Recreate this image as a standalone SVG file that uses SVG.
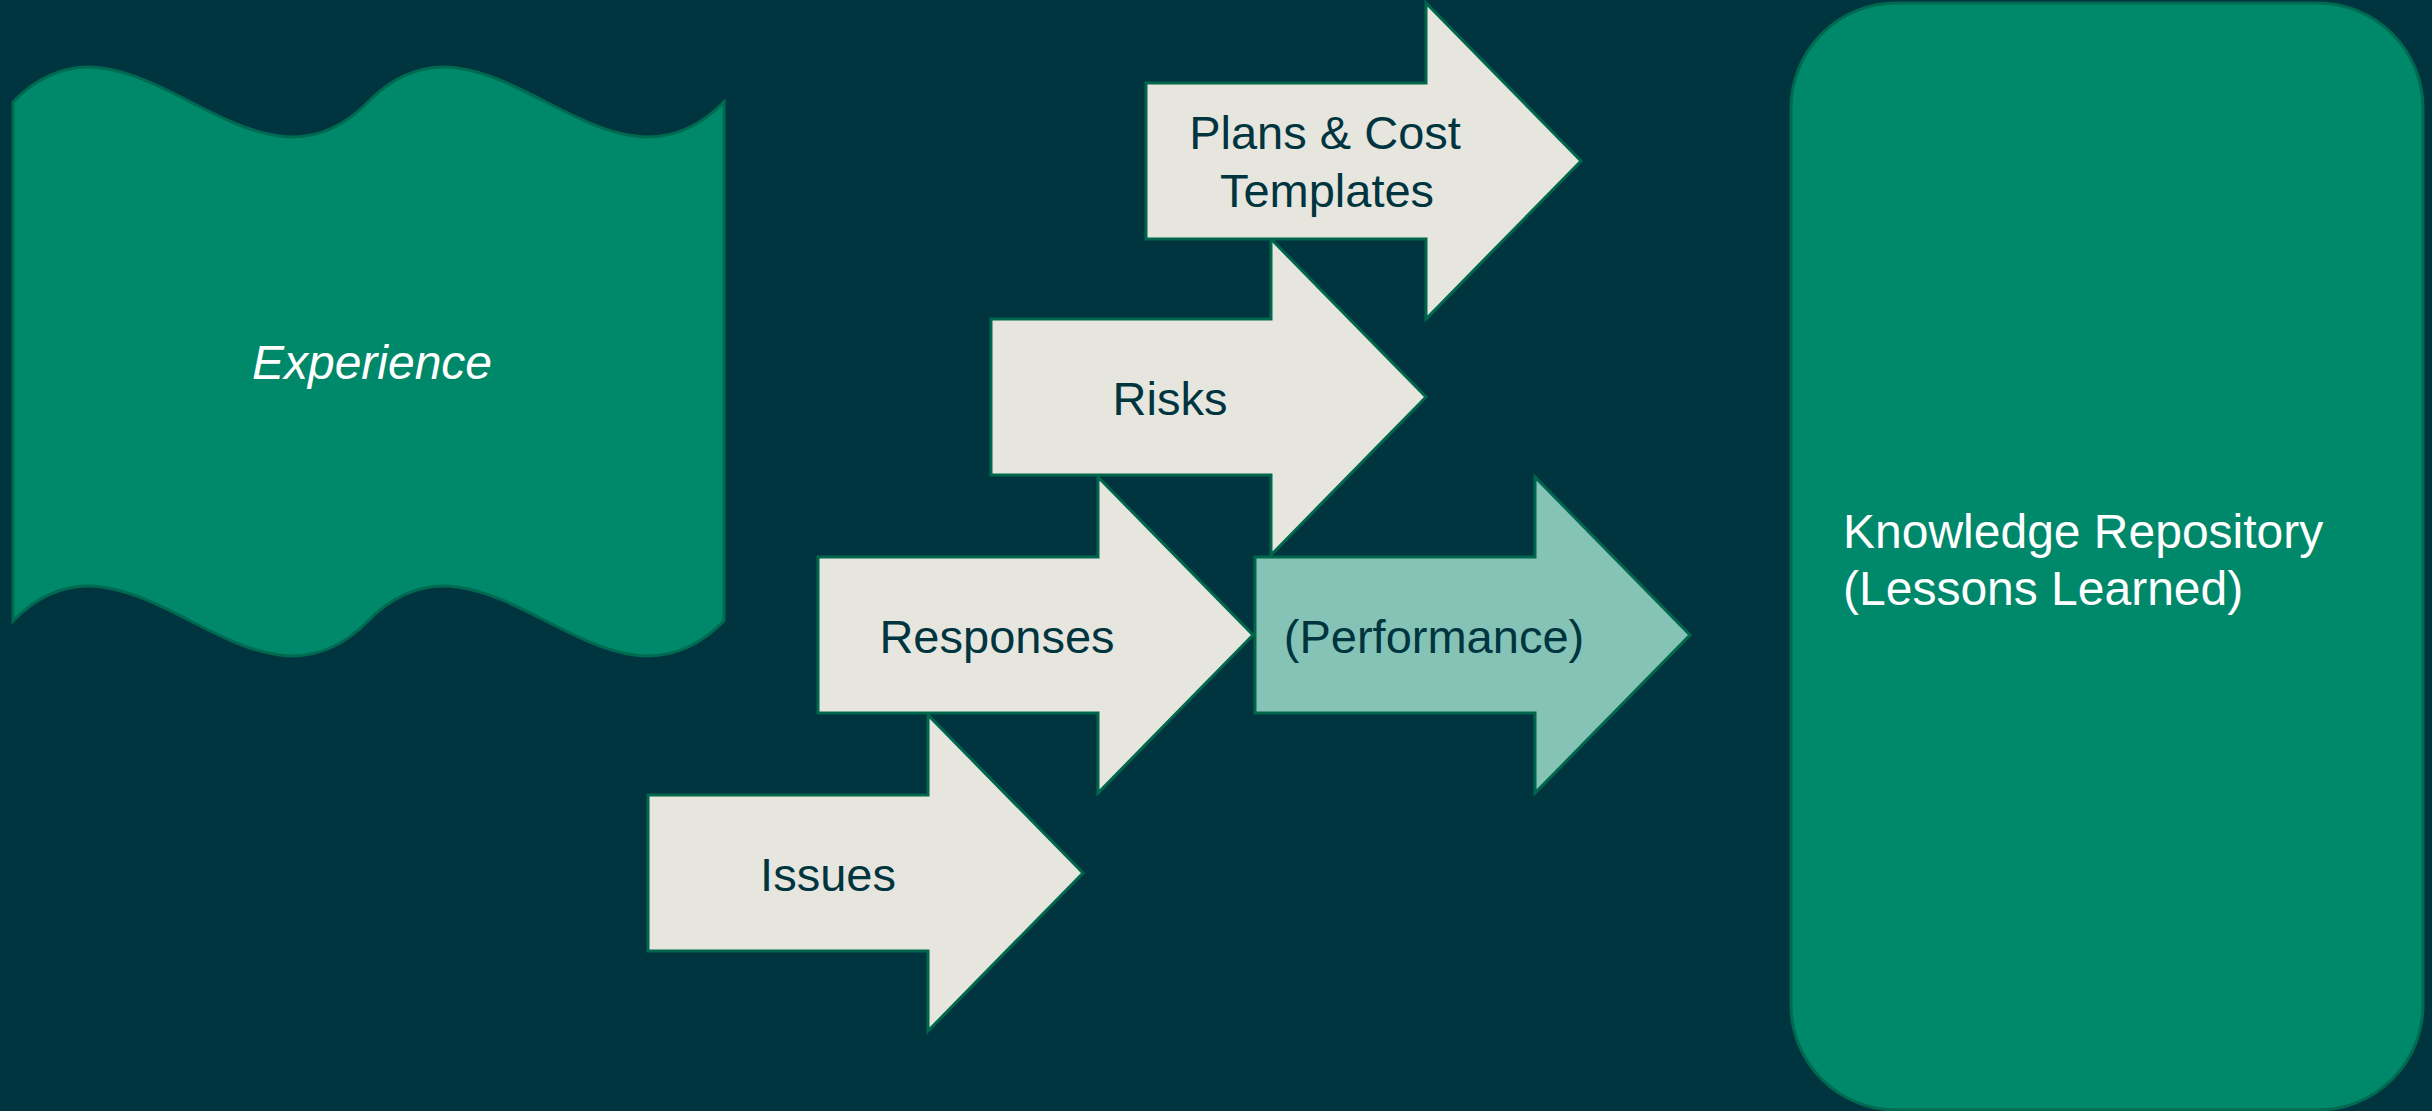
<svg xmlns="http://www.w3.org/2000/svg" width="2432" height="1111" viewBox="0 0 2432 1111">
<style>
.bg{fill:#00353F}
.wave{fill:#00886A;stroke:#006A50;stroke-width:3}
.repo{fill:#00886A;stroke:#006A50;stroke-width:3}
.arrow{fill:#E6E6DE;stroke:#00664C;stroke-width:3;stroke-linejoin:miter}
.arrow.perf{fill:#84C3B6}
.lbl{font-family:"Liberation Sans",Arial,sans-serif;font-size:47px;fill:#00353F;text-anchor:middle}
.wlbl{font-family:"Liberation Sans",Arial,sans-serif;font-size:48px;fill:#FFFFFF}
</style>
<rect class="bg" x="0" y="0" width="2432" height="1111"/>
<g id="experience">
<path class="wave" d="M13,102 C131,-19 250,223 368,102 C487,-19 605,223 724,102 L724,621 C605,742 487,500 368,621 C250,742 131,500 13,621 Z"/>
<text class="wlbl" x="372" y="379" text-anchor="middle" font-style="italic">Experience</text>
</g>
<g id="knowledge-repository">
<rect class="repo" x="1791" y="3" width="632" height="1107" rx="105" ry="105"/>
<text class="wlbl" x="1843" y="548">Knowledge Repository</text>
<text class="wlbl" x="1843" y="605">(Lessons Learned)</text>
</g>
<g id="connectors"></g>
<g id="issues">
<path class="arrow" d="M648,795 L928,795 L928,715 L1083,873 L928,1031 L928,951 L648,951 Z"/>
<text class="lbl" x="828" y="891">Issues</text>
</g>
<g id="responses">
<path class="arrow" d="M818,557 L1098,557 L1098,477 L1253,635 L1098,793 L1098,713 L818,713 Z"/>
<text class="lbl" x="997" y="653">Responses</text>
</g>
<g id="risks">
<path class="arrow" d="M991,319 L1271,319 L1271,239 L1426,397 L1271,555 L1271,475 L991,475 Z"/>
<text class="lbl" x="1170" y="415">Risks</text>
</g>
<g id="plans-cost-templates">
<path class="arrow" d="M1146,83 L1426,83 L1426,3 L1581,161 L1426,319 L1426,239 L1146,239 Z"/>
<text class="lbl" x="1325" y="149">Plans &amp; Cost</text>
<text class="lbl" x="1327" y="207">Templates</text>
</g>
<g id="performance">
<path class="arrow perf" d="M1255,557 L1535,557 L1535,477 L1690,635 L1535,793 L1535,713 L1255,713 Z"/>
<text class="lbl" x="1434" y="653">(Performance)</text>
</g>
</svg>
